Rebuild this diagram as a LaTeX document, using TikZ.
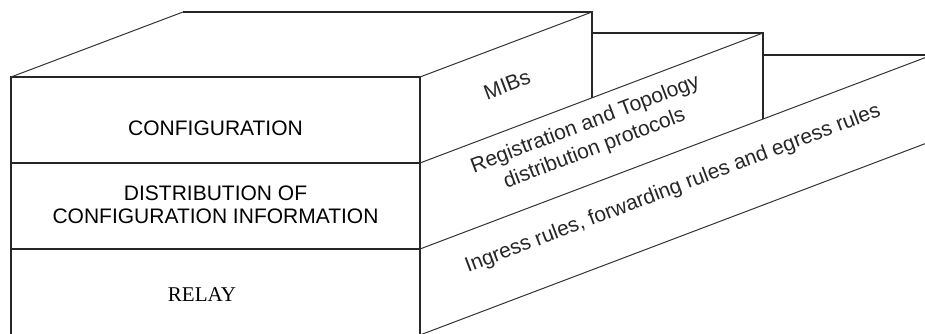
\documentclass[tikz,border=0pt]{standalone}
\usepackage{fontspec}
\setmainfont{Liberation Sans}
\newfontfamily\relayfont{Liberation Serif}
\tikzset{
    edge/.style={draw=black!85, line width=0.65pt},
    slant/.style={draw=black!80, line width=0.5pt},
    layertext/.style={
        font=\fontsize{10.5}{11.5}\selectfont, align=center, inner sep=0pt
    },
    sidetext/.style={
        font=\fontsize{10.5}{13}\selectfont, align=center, inner sep=0pt,
        rotate=20.8, text=black!85
    }
}

\begin{document}
\begin{tikzpicture}[x=0.5pt, y=-0.5pt]
\useasboundingbox (0,0) rectangle (925,333);
\clip (0,0) rectangle (925,333);

% Front face with the three layers
\draw[edge] (11,340) -- (11,77) -- (420,77) -- (420,340);
\draw[edge] (11,163) -- (420,163);
\draw[edge] (11,249) -- (420,249);

% Configuration layer (top step)
\draw[slant] (11,77) -- (183,12);
\draw[edge] (183,12) -- (592,12) -- (592,98);
\draw[slant] (420,77) -- (592,12);

% Distribution layer (second step)
\draw[edge] (592,33) -- (763,33) -- (763,119);
\draw[slant] (420,163) -- (763,33);

% Relay layer (third step, runs off to the right)
\draw[edge] (763,55) -- (940,55);
\draw[slant] (420,249) -- (940,52);
\draw[slant] (420,335) -- (940,138);

% Front labels
\node[layertext] (config) at (215.5,128) {CONFIGURATION};
\node[layertext] (distrib) at (215.5,205) {DISTRIBUTION OF\\CONFIGURATION INFORMATION};
\node[layertext, font=\relayfont\fontsize{10.5}{12}\selectfont] (relay) at (202,295) {RELAY};

% Side labels
\node[sidetext] (mibs) at (507,85) {MIBs};
\node[sidetext] (regtopo) at (590,137) {Registration and Topology\\distribution protocols};
\node[sidetext] (ingress) at (673,189) {Ingress rules, forwarding rules and egress rules};

\end{tikzpicture}
\end{document}
